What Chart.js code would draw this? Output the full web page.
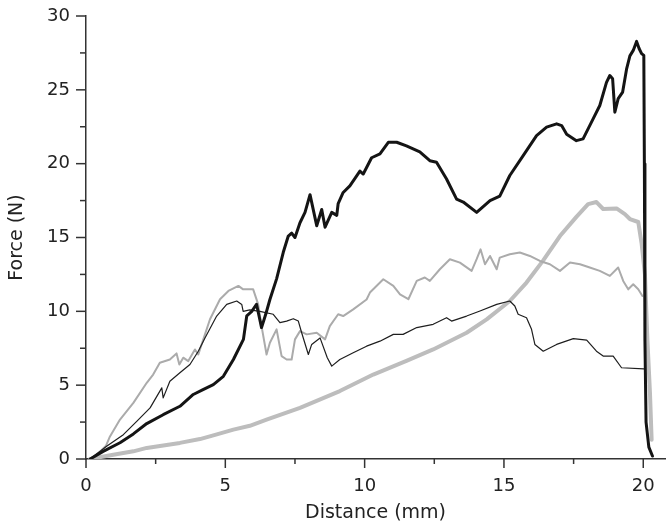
<!DOCTYPE html>
<html>
<head>
<meta charset="utf-8">
<script src="https://cdn.jsdelivr.net/npm/chart.js@4"></script>
<style>
  body { margin: 0; background: #fff; }
  canvas { display: block; }
</style>
</head>
<body>
<canvas id="chart" width="666" height="529"></canvas>
<script>
// Данные
const xTicks = [0, 2.5, 5, 7.5, 10, 12.5, 15, 17.5, 20];
const yTicks = [0, 2.5, 5, 7.5, 10, 12.5, 15, 17.5, 20, 22.5, 25, 27.5, 30];

// толстая чёрная
const thickBlackX = [0.15, 0.6, 1.22, 1.7, 2.18, 2.77, 3.37, 3.85, 4.2, 4.57, 4.93, 5.29, 5.65, 5.77, 5.95, 6.12, 6.22, 6.3, 6.45, 6.6, 6.84, 7.08, 7.26, 7.38, 7.5, 7.68, 7.86, 8.04, 8.28, 8.46, 8.58, 8.82, 9.0, 9.05, 9.23, 9.47, 9.83, 9.95, 10.25, 10.55, 10.85, 11.15, 11.5, 11.98, 12.34, 12.58, 12.94, 13.3, 13.54, 14.02, 14.5, 14.85, 15.21, 15.69, 16.17, 16.53, 16.89, 17.07, 17.25, 17.6, 17.84, 18.2, 18.44, 18.68, 18.8, 18.9, 18.98, 19.1, 19.26, 19.4, 19.52, 19.64, 19.76, 19.85, 19.94, 20.02, 20.04, 20.06, 20.1, 20.2, 20.33];
const thickBlackY = [0, 0.5, 1.1, 1.7, 2.4, 3.0, 3.57, 4.37, 4.7, 5.04, 5.6, 6.74, 8.1, 9.7, 10.0, 10.48, 9.6, 8.9, 9.8, 10.8, 12.2, 14.0, 15.1, 15.3, 15.0, 16.0, 16.7, 17.9, 15.8, 16.9, 15.7, 16.7, 16.5, 17.3, 18.05, 18.5, 19.5, 19.3, 20.4, 20.66, 21.45, 21.45, 21.2, 20.8, 20.2, 20.1, 18.96, 17.6, 17.4, 16.7, 17.5, 17.8, 19.2, 20.54, 21.9, 22.47, 22.7, 22.58, 22.0, 21.56, 21.68, 23.03, 23.94, 25.5, 25.97, 25.75, 23.49, 24.4, 24.85, 26.4, 27.3, 27.67, 28.28, 27.8, 27.45, 27.33, 20, 8, 2.5, 0.8, 0.2];

// тонкая чёрная
const thinBlackX = [0.15, 0.74, 1.34, 1.82, 2.3, 2.72, 2.77, 3.01, 3.37, 3.73, 4.03, 4.27, 4.69, 5.05, 5.41, 5.59, 5.64, 5.88, 6.24, 6.72, 6.96, 7.2, 7.44, 7.62, 7.74, 7.98, 8.1, 8.4, 8.66, 8.82, 9.11, 9.59, 10.07, 10.55, 11.03, 11.38, 11.87, 12.46, 12.94, 13.12, 13.66, 14.14, 14.74, 15.21, 15.39, 15.51, 15.81, 15.99, 16.11, 16.41, 16.89, 17.49, 17.97, 18.32, 18.56, 18.92, 19.22, 20.02];
const thinBlackY = [0, 0.86, 1.65, 2.55, 3.46, 4.82, 4.14, 5.27, 5.84, 6.4, 7.3, 8.2, 9.68, 10.47, 10.7, 10.47, 10.0, 10.1, 10.0, 9.8, 9.23, 9.34, 9.5, 9.34, 8.55, 7.08, 7.76, 8.2, 6.86, 6.29, 6.74, 7.2, 7.64, 7.98, 8.44, 8.44, 8.9, 9.12, 9.57, 9.34, 9.68, 10.02, 10.47, 10.7, 10.36, 9.8, 9.57, 8.78, 7.76, 7.3, 7.76, 8.15, 8.05, 7.3, 6.97, 6.97, 6.18, 6.11];

// тонкая серая
const thinGrayX = [0.15, 0.5, 0.72, 0.86, 1.22, 1.7, 2.18, 2.41, 2.65, 3.01, 3.25, 3.35, 3.49, 3.67, 3.91, 4.03, 4.21, 4.45, 4.81, 5.11, 5.47, 5.64, 5.82, 6.0, 6.18, 6.3, 6.48, 6.6, 6.84, 7.02, 7.2, 7.38, 7.5, 7.68, 7.92, 8.28, 8.58, 8.75, 9.05, 9.23, 9.59, 10.07, 10.19, 10.67, 11.03, 11.27, 11.57, 11.87, 12.16, 12.34, 12.7, 13.06, 13.42, 13.84, 14.02, 14.16, 14.32, 14.5, 14.74, 14.85, 15.21, 15.57, 15.93, 16.29, 16.65, 17.01, 17.37, 17.73, 18.08, 18.44, 18.8, 19.1, 19.28, 19.46, 19.64, 19.82, 19.97];
const thinGrayY = [0, 0.5, 0.9, 1.53, 2.67, 3.8, 5.16, 5.72, 6.52, 6.74, 7.15, 6.4, 6.86, 6.63, 7.42, 7.08, 8.1, 9.46, 10.82, 11.38, 11.72, 11.49, 11.49, 11.49, 10.47, 9.0, 7.08, 7.87, 8.78, 6.97, 6.74, 6.74, 8.1, 8.66, 8.44, 8.55, 8.1, 9.0, 9.8, 9.68, 10.13, 10.8, 11.27, 12.17, 11.72, 11.15, 10.82, 12.06, 12.29, 12.06, 12.85, 13.53, 13.3, 12.74, 13.53, 14.2, 13.19, 13.75, 12.85, 13.64, 13.87, 13.98, 13.75, 13.41, 13.19, 12.74, 13.3, 13.19, 12.97, 12.74, 12.4, 12.97, 12.06, 11.49, 11.83, 11.49, 11.04];

// толстая серая
const thickGrayX = [0.15, 0.98, 1.7, 2.18, 3.37, 4.09, 4.57, 5.29, 5.88, 6.48, 7.68, 9.11, 10.31, 11.5, 12.46, 13.66, 14.38, 15.21, 15.81, 16.41, 17.01, 17.6, 18.02, 18.32, 18.56, 19.04, 19.34, 19.52, 19.82, 19.94, 20.06, 20.15, 20.24, 20.3];
const thickGrayY = [0, 0.29, 0.52, 0.75, 1.09, 1.35, 1.6, 1.99, 2.25, 2.67, 3.46, 4.6, 5.72, 6.65, 7.42, 8.55, 9.46, 10.7, 11.95, 13.45, 15.1, 16.4, 17.26, 17.4, 16.93, 16.97, 16.58, 16.25, 16.05, 14.6, 12.5, 8, 4.5, 1.3];

function toPoints(xs, ys) {
    return xs.map((x, i) => ({ x: x, y: ys[i] }));
}

const axisColor = '#333333';
const textColor = '#222222';
const labelFont = { family: 'DejaVu Sans', size: 18 };
const titleFont = { family: 'DejaVu Sans', size: 19 };

// Большие и малые засечки на осях
const tickMarks = {
    id: 'tickMarks',
    afterDraw(chart) {
        const ctx = chart.ctx;
        const xs = chart.scales.x;
        const ys = chart.scales.y;
        ctx.save();
        ctx.strokeStyle = axisColor;
        ctx.lineWidth = 1.5;
        xs.ticks.forEach(t => {
            const px = xs.getPixelForValue(t.value);
            const len = t.value % 5 === 0 ? 9 : 5;
            ctx.beginPath();
            ctx.moveTo(px, xs.top);
            ctx.lineTo(px, xs.top + len);
            ctx.stroke();
        });
        ys.ticks.forEach(t => {
            const py = ys.getPixelForValue(t.value);
            const len = t.value % 5 === 0 ? 10 : 6;
            ctx.beginPath();
            ctx.moveTo(ys.right, py);
            ctx.lineTo(ys.right - len, py);
            ctx.stroke();
        });
        ctx.restore();
    }
};

const ctx = document.getElementById('chart').getContext('2d');
new Chart(ctx, {
    type: 'line',
    data: {
        datasets: [
            { data: toPoints(thickBlackX, thickBlackY), borderColor: '#141414', borderWidth: 3 },
            { data: toPoints(thinBlackX, thinBlackY), borderColor: '#1e1e1e', borderWidth: 1.2 },
            { data: toPoints(thinGrayX, thinGrayY), borderColor: '#ababab', borderWidth: 2 },
            { data: toPoints(thickGrayX, thickGrayY), borderColor: '#bdbdbd', borderWidth: 4 }
        ]
    },
    options: {
        responsive: false,
        animation: false,
        parsing: false,
        elements: {
            point: { radius: 0 },
            line: { tension: 0, fill: false, borderJoinStyle: 'round', borderCapStyle: 'round' }
        },
        layout: { padding: { left: 0, right: 1, top: 16, bottom: 0 } },
        plugins: {
            legend: { display: false },
            tooltip: { enabled: false }
        },
        scales: {
            x: {
                type: 'linear',
                min: 0,
                max: 20.78,
                afterBuildTicks: s => { s.ticks = xTicks.map(v => ({ value: v })); },
                afterFit: s => { s.height = 70; s.paddingLeft = 0; s.paddingRight = 0; },
                grid: { display: false, drawTicks: false },
                border: { display: true, color: axisColor, width: 1.5 },
                ticks: {
                    padding: 17,
                    autoSkip: false,
                    maxRotation: 0,
                    color: textColor,
                    font: labelFont,
                    callback: v => (v % 5 === 0 ? v : '')
                },
                title: {
                    display: true,
                    text: 'Distance (mm)',
                    color: textColor,
                    font: titleFont,
                    padding: { top: 0, bottom: 5 }
                }
            },
            y: {
                type: 'linear',
                min: 0,
                max: 30,
                afterBuildTicks: s => { s.ticks = yTicks.map(v => ({ value: v })); },
                afterFit: s => { s.width = 86; s.paddingTop = 0; s.paddingBottom = 0; },
                grid: { display: false, drawTicks: false },
                border: { display: true, color: axisColor, width: 1.5 },
                ticks: {
                    padding: 16,
                    autoSkip: false,
                    color: textColor,
                    font: labelFont,
                    callback: v => (v % 5 === 0 ? v : '')
                },
                title: {
                    display: true,
                    text: 'Force (N)',
                    color: textColor,
                    font: titleFont,
                    padding: { top: 6, bottom: 0 }
                }
            }
        }
    },
    plugins: [tickMarks]
});
</script>
</body>
</html>
